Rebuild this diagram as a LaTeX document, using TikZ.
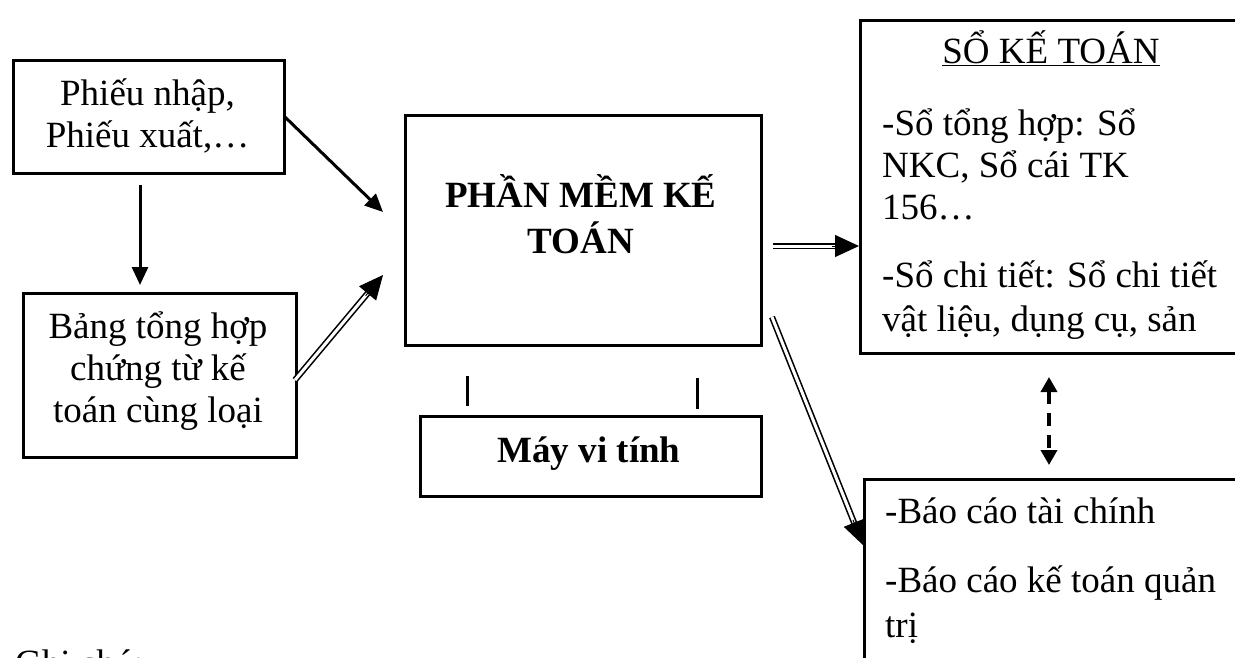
\documentclass[tikz,border=0pt]{standalone}
\usepackage{fontspec}
\setmainfont{Liberation Serif}
\usetikzlibrary{arrows.meta,calc}
% stacked lines with the first baseline as reference
\newcommand{\rowsC}[1]{\begin{tabular}[t]{@{}c@{}}#1\end{tabular}}
\newcommand{\rowsL}[1]{\begin{tabular}[t]{@{}l@{}}#1\end{tabular}}
\begin{document}
\begin{tikzpicture}[x=1pt,y=-1pt,
  box/.style={draw, line width=3.2pt, inner sep=0pt, anchor=north west},
  txt/.style={inner sep=0pt, font=\fontsize{37}{42}\selectfont, anchor=base},
  txtl/.style={txt, anchor=base west},
  single/.style={line width=3pt, -{Triangle[length=18pt,width=16pt]}},
  dbl/.style={double, line width=1.6pt, double distance=3pt},
  dblhead/.style={line width=1pt, -{Triangle[length=24pt,width=22pt]}},
  dashline/.style={line width=3.5pt, dash pattern=on 13pt off 9pt,
    {Triangle[length=15pt,width=16pt]}-{Triangle[length=15pt,width=16pt]}},
  tick/.style={line width=3pt}]
\clip (0,0) rectangle (1235,657);

% boxes
\node[box, minimum width=271pt, minimum height=113pt] (A) at (12,59) {};
\node[box, minimum width=273pt, minimum height=164pt] (B) at (22,292) {};
\node[box, minimum width=356pt, minimum height=230pt] (C) at (404,114) {};
\node[box, minimum width=341pt, minimum height=80pt] (D) at (419,415) {};
\node[box, minimum width=420pt, minimum height=333pt] (E) at (859,19) {};
\node[box, minimum width=420pt, minimum height=250pt] (F) at (863,478) {};

% texts
\node[txt] (At) at (147.5,105) {\rowsC{Phiếu nhập,\\Phiếu xuất,…}};
\node[txt] (Bt) at (158,338) {\rowsC{Bảng tổng hợp\\chứng từ kế\\toán cùng loại}};
\node[txt, font=\fontsize{37}{42}\selectfont\bfseries] (Ct) at (581,207) {\rowsC{PHẦN MỀM KẾ\\[2pt]TOÁN}};
\node[txt, font=\fontsize{37}{42}\selectfont\bfseries] (Dt) at (589,462) {Máy vi tính};
\node[txt] (Et) at (1051,63) {\underline{SỔ KẾ TOÁN}};
\node[txtl] (E1) at (882,135) {\rowsL{-Sổ tổng hợp: Sổ\\NKC, Sổ cái TK\\156…}};
\node[txtl] (E2) at (882,287) {\rowsL{-Sổ chi tiết: Sổ chi tiết\\[2pt]vật liệu, dụng cụ, sản}};
\node[txtl] (F1) at (885,523) {-Báo cáo tài chính};
\node[txtl] (F2) at (885,592) {\rowsL{-Báo cáo kế toán quản\\[3pt]trị}};
\node[txtl] (G) at (15,675) {Ghi chú:};

% connector end points
\coordinate (a1) at (285,117);  \coordinate (a2) at (383,212);
\coordinate (d1) at (140,185);  \coordinate (d2) at (140,285);
\coordinate (b1) at (295,380);  \coordinate (b2) at (383,275);
\coordinate (c1) at (773,246);  \coordinate (c2) at (859,246);
\coordinate (f1) at (772,317);  \coordinate (f2) at (863,545);
\coordinate (e1) at (1049,377); \coordinate (e2) at (1049,465);
\coordinate (k1) at (467,376);  \coordinate (k2) at (467,406);
\coordinate (m1) at (697,378);  \coordinate (m2) at (697,409);

% single arrows
\draw[single] (a1) -- (a2);
\draw[single] (d1) -- (d2);

% double-line arrows
\draw[dbl] (b1) -- ($(b2)!18pt!(b1)$);
\draw[dblhead] ($(b2)!27pt!(b1)$) -- (b2);
\draw[dbl] (c1) -- ($(c2)!18pt!(c1)$);
\draw[dblhead] ($(c2)!27pt!(c1)$) -- (c2);
\draw[dbl] (f1) -- ($(f2)!18pt!(f1)$);
\draw[dblhead] ($(f2)!27pt!(f1)$) -- (f2);

% dashed two-way arrow
\draw[dashline] (e1) -- (e2);

% ticks between software and computer
\draw[tick] (k1) -- (k2);
\draw[tick] (m1) -- (m2);
\end{tikzpicture}
\end{document}
